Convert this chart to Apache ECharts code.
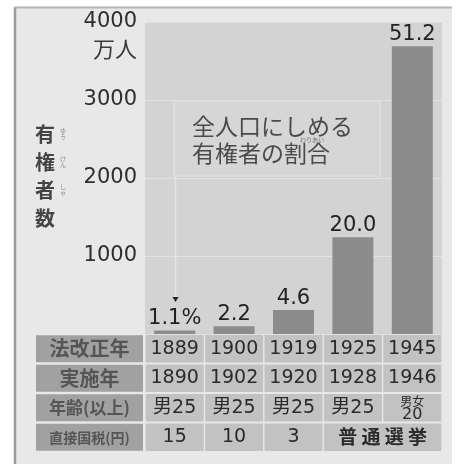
<!DOCTYPE html>
<html><head><meta charset="utf-8">
<script src="https://cdn.jsdelivr.net/npm/echarts/dist/echarts.min.js"></script>
<style>html,body{margin:0;padding:0;background:#fff}#c{width:459px;height:464px}</style>
</head><body><div id="c"></div>
<script>
// ---- data ----
const categories = ['1889', '1900', '1919', '1925', '1945'];
const voters = [45, 98, 307, 1241, 3688];          // 有権者数 (万人)
const shares = [1.1, 2.2, 4.6, 20.0, 51.2];        // 全人口にしめる有権者の割合 (%)
const yTicks = [0, 1000, 2000, 3000, 4000];
const rowHeaders = ['法改正年', '実施年', '年齢(以上)', '直接国税(円)'];
const lawYears = ['1889', '1900', '1919', '1925', '1945'];
const enforceYears = ['1890', '1902', '1920', '1928', '1946'];
const ages = ['男25', '男25', '男25', '男25', '男女20'];
const taxes = ['15', '10', '3', '普通選挙'];

// ---- table cells ----
const cells = [];
lawYears.forEach((t, i) => cells.push({ col: i, row: 0, span: 1, text: t }));
enforceYears.forEach((t, i) => cells.push({ col: i, row: 1, span: 1, text: t }));
ages.forEach((t, i) => cells.push({ col: i, row: 2, span: 1, text: t }));
taxes.forEach((t, i) => cells.push({ col: i, row: 3, span: i === 3 ? 2 : 1, text: t }));

const NUM = '"DejaVu Sans", "Noto Sans CJK JP", sans-serif';
const JP = '"Noto Sans CJK JP", sans-serif';
const hdr = (size) => ({ width: 107, height: 27, align: 'center', backgroundColor: '#a1a1a1', color: '#555', fontSize: size, fontWeight: 'bold', fontFamily: JP });

const chart = echarts.init(document.getElementById('c'));
chart.setOption({
  animation: false,
  backgroundColor: '#fff',
  grid: [
    { left: 145, right: 17, top: 22, bottom: 130, show: true, backgroundColor: '#d3d3d3', borderWidth: 0 },
    { left: 145, right: 17, top: 334, height: 118 }
  ],
  xAxis: [
    { type: 'category', gridIndex: 0, data: categories, axisLine: { show: false }, axisTick: { show: false }, axisLabel: { show: false } },
    { type: 'category', gridIndex: 1, data: categories, show: false }
  ],
  yAxis: [
    {
      type: 'value', gridIndex: 0, min: yTicks[0], max: yTicks[yTicks.length - 1], interval: 1000,
      axisLine: { show: false }, axisTick: { show: false },
      splitLine: { lineStyle: { color: '#e2e2e2', width: 1.2 } },
      axisLabel: { margin: 8, color: '#2e2e2e', fontSize: 21, fontFamily: NUM, formatter: v => (v === 0 ? '' : String(v)) },
      name: '万人', nameLocation: 'end', nameGap: -27,
      nameTextStyle: { align: 'right', verticalAlign: 'middle', padding: [0, 8, 0, 0], color: '#3a3a3a', fontSize: 22, fontFamily: JP }
    },
    {
      type: 'category', gridIndex: 1, data: rowHeaders, inverse: true,
      axisLine: { show: false }, axisTick: { show: false }, splitLine: { show: false },
      axisLabel: {
        margin: 2,
        formatter: (v, i) => '{h' + i + '|' + v + '}',
        rich: { h0: hdr(20), h1: hdr(20), h2: hdr(17), h3: hdr(14) }
      }
    }
  ],
  series: [
    {
      type: 'bar', xAxisIndex: 0, yAxisIndex: 0, data: voters, barWidth: 41,
      itemStyle: { color: '#8c8c8c' },
      label: {
        show: true, position: 'top', distance: 1, color: '#222', fontSize: 21, fontFamily: NUM,
        formatter: p => shares[p.dataIndex].toFixed(1) + (p.dataIndex === 0 ? '%' : '')
      },
      z: 3
    },
    {
      type: 'custom', xAxisIndex: 1, yAxisIndex: 1,
      data: cells.map(c => [c.col, c.row]),
      renderItem: (params, api) => {
        const c = cells[params.dataIndex];
        const p = api.coord([c.col, c.row]);
        const s = api.size([1, 1]);
        const x0 = p[0] - s[0] / 2, y0 = p[1] - s[1] / 2, w = s[0] * c.span, h = s[1];
        let textEl;
        if (c.text === '男女20') {
          textEl = { type: 'text', style: { x: x0 + w / 2, y: y0 + h / 2 + 1, text: '{s|男女}\n{n|20}', align: 'center', verticalAlign: 'middle',
            rich: { s: { fontSize: 12, lineHeight: 12, fontFamily: JP, fill: '#2a2a2a', color: '#2a2a2a' }, n: { fontSize: 16, lineHeight: 15, fontFamily: NUM, fill: '#2a2a2a', color: '#2a2a2a' } } } };
        } else {
          const isJp = c.text === '普通選挙';
          textEl = { type: 'text', style: { x: x0 + w / 2, y: y0 + h / 2, text: isJp ? '普 通 選 挙' : c.text, align: 'center', verticalAlign: 'middle',
            fill: '#2a2a2a', font: isJp ? 'bold 19px ' + JP : '19px ' + NUM } };
        }
        return { type: 'group', children: [
          { type: 'rect', shape: { x: x0 + 0.7, y: y0 + 1, width: w - 1.4, height: h - 2 }, style: { fill: '#c2c2c2' } },
          textEl
        ] };
      }
    }
  ],
  graphic: [
    // frame
    { type: 'rect', z: -10, shape: { x: 15, y: 8, width: 437, height: 470 }, style: { fill: '#e8e8e8' } },
    { type: 'line', z: -9, shape: { x1: 15, y1: 7, x2: 15, y2: 464 }, style: { stroke: '#9a9a9a', lineWidth: 2.5 } },
    { type: 'line', z: -9, shape: { x1: 14, y1: 7.5, x2: 452, y2: 7.5 }, style: { stroke: '#b4b4b4', lineWidth: 2 } },
    // annotation box
    { type: 'rect', z: 5, shape: { x: 174, y: 101, width: 206, height: 75 }, style: { fill: '#d6d6d6', stroke: '#e0e0e0', lineWidth: 1.5 } },
    { type: 'text', z: 6, style: { x: 192, y: 126, text: '全人口にしめる', font: '23px ' + JP, fill: '#4a4a4a', verticalAlign: 'middle' } },
    { type: 'text', z: 6, style: { x: 192, y: 153, text: '有権者の割合', font: '23px ' + JP, fill: '#4a4a4a', verticalAlign: 'middle' } },
    { type: 'text', z: 6, style: { x: 300, y: 140, text: 'わりあい', font: '6px ' + JP, fill: '#777', verticalAlign: 'middle' } },
    // pointer to 1.1%
    { type: 'line', z: 5, shape: { x1: 175.5, y1: 176, x2: 175.5, y2: 298 }, style: { stroke: '#e4e4e4', lineWidth: 1.5 } },
    { type: 'polygon', z: 6, shape: { points: [[172.5, 297], [178.5, 297], [175.5, 302]] }, style: { fill: '#222' } },
    // y-axis title
    { type: 'text', z: 6, style: { x: 45, y: 134, text: '有', font: 'bold 20px ' + JP, fill: '#444', align: 'center', verticalAlign: 'middle' } },
    { type: 'text', z: 6, style: { x: 45, y: 162, text: '権', font: 'bold 20px ' + JP, fill: '#444', align: 'center', verticalAlign: 'middle' } },
    { type: 'text', z: 6, style: { x: 45, y: 190, text: '者', font: 'bold 20px ' + JP, fill: '#444', align: 'center', verticalAlign: 'middle' } },
    { type: 'text', z: 6, style: { x: 45, y: 218, text: '数', font: 'bold 20px ' + JP, fill: '#444', align: 'center', verticalAlign: 'middle' } },
    { type: 'text', z: 6, style: { x: 63, y: 134, text: 'ゆ\nう', font: '6px ' + JP, lineHeight: 6, fill: '#888', align: 'center', verticalAlign: 'middle' } },
    { type: 'text', z: 6, style: { x: 63, y: 162, text: 'け\nん', font: '6px ' + JP, lineHeight: 6, fill: '#888', align: 'center', verticalAlign: 'middle' } },
    { type: 'text', z: 6, style: { x: 63, y: 190, text: 'し\nゃ', font: '6px ' + JP, lineHeight: 6, fill: '#888', align: 'center', verticalAlign: 'middle' } }
  ]
});
</script></body></html>
